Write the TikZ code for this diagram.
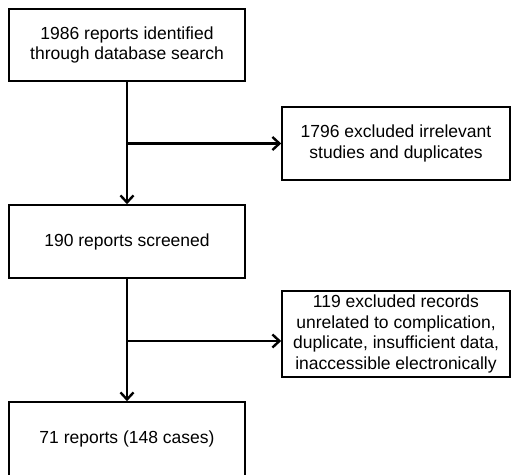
\documentclass[tikz,border=0pt]{standalone}
\usepackage{fontspec}
\setmainfont{Liberation Sans}
\usetikzlibrary{arrows.meta}
\begin{document}
\begin{tikzpicture}[x=1pt,y=-1pt,
  box/.style={draw=black,line width=1.6pt,fill=white,align=center,inner sep=0pt,
    font=\fontsize{17.5}{20.8}\selectfont},
  arr/.style={line width=2.4pt,-{Straight Barb[length=7pt,width=13pt,line width=2.4pt]}},
  lin/.style={line width=2.4pt}]
\clip (0,0) rectangle (511,474);
\fill[white] (0,0) rectangle (511,474);
\node[box,minimum width=236pt,minimum height=72pt] (b1) at (127,45) {1986 reports identified\\through database search};
\node[box,minimum width=228pt,minimum height=73pt] (b2) at (396,143.5) {1796 excluded irrelevant\\studies and duplicates};
\node[box,minimum width=236pt,minimum height=73pt] (b3) at (127,241.5) {190 reports screened};
\node[box,minimum width=228pt,minimum height=86pt] (b4) at (396,334) {119 excluded records\\unrelated to complication,\\duplicate, insufficient data,\\inaccessible electronically};
\node[box,minimum width=236pt,minimum height=74pt] (b5) at (127,439) {71 reports (148 cases)};
\coordinate (j1) at (b1.south |- b2.west);
\coordinate (j2) at (b3.south |- 0,341);
\draw[arr] (b1.south) -- (b3.north);
\draw[arr] (j1) -- (b2.west);
\draw[arr] (b3.south) -- (b5.north);
\draw[arr] (j2) -- (b4.west |- j2);
\end{tikzpicture}
\end{document}
